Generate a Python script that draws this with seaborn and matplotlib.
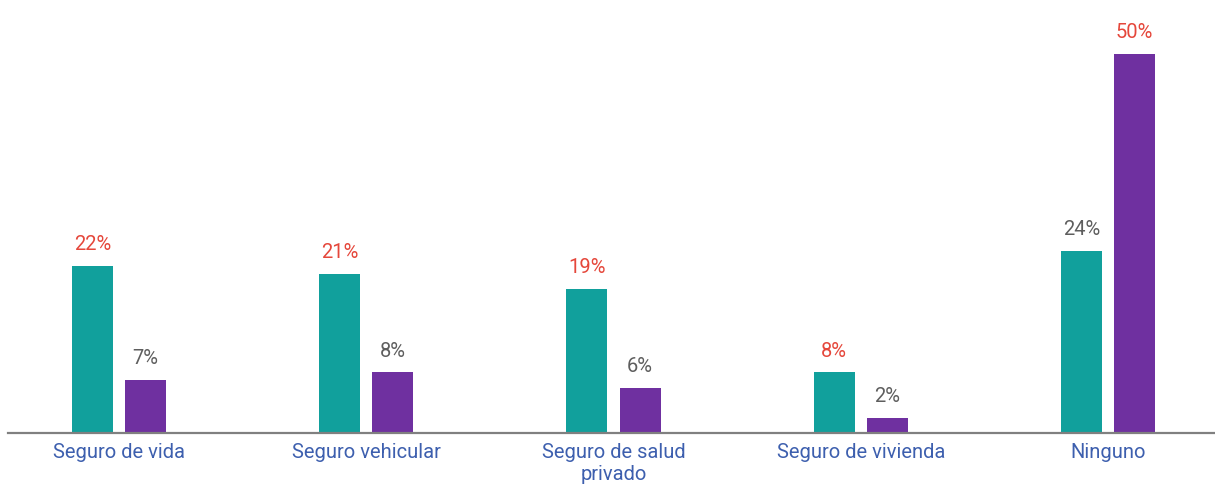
import matplotlib
matplotlib.use("Agg")
import matplotlib.pyplot as plt
import seaborn as sns
import pandas as pd

# Insurance categories and the percentage for each of the two series
categorias = ["Seguro de vida", "Seguro vehicular", "Seguro de salud\nprivado",
              "Seguro de vivienda", "Ninguno"]
serie_1 = [22, 21, 19, 8, 24]
serie_2 = [7, 8, 6, 2, 50]
series = ["Serie 1", "Serie 2"]

TEAL = "#11a09c"
PURPLE = "#6f30a0"
RED = "#e5473b"
GRAY = "#5e5e5e"
BLUE = "#3d5fae"
AXIS = "#808080"

df = pd.DataFrame({
    "categoria": categorias * 2,
    "serie": [series[0]] * len(categorias) + [series[1]] * len(categorias),
    "valor": serie_1 + serie_2,
})

sns.set_theme(style="white")
plt.rcParams["font.family"] = ["Roboto", "DejaVu Sans"]

fig = plt.figure(figsize=(12.15, 4.84), dpi=100)
ax = fig.add_axes([8 / 1215, 51 / 484, 1 - 8 / 1215, 433 / 484])

sns.barplot(data=df, x="categoria", y="valor", hue="serie", order=categorias,
            hue_order=series, palette=[TEAL, PURPLE], width=0.43, gap=0.23,
            saturation=1, legend=False, linewidth=0, ax=ax)

ax.set_xlim(-0.449, 4.433)
ax.set_ylim(0, 433 / 7.58)

# Value labels: the larger value in each category is highlighted in red
for i, cont in enumerate(ax.containers):
    valores = serie_1 if i == 0 else serie_2
    otros = serie_2 if i == 0 else serie_1
    textos = ax.bar_label(cont, labels=[f"{v}%" for v in valores], padding=8.5,
                          fontsize=14.5, family=["Roboto", "DejaVu Sans"])
    for t, v, o in zip(textos, valores, otros):
        t.set_color(RED if v > o else GRAY)

ax.set_xlabel("")
ax.set_ylabel("")
ax.set_yticks([])
for s in ["top", "right", "left"]:
    ax.spines[s].set_visible(False)
ax.spines["bottom"].set_color(AXIS)
ax.spines["bottom"].set_linewidth(1.6)

ax.tick_params(axis="x", length=0, pad=7.5)
for lbl in ax.get_xticklabels():
    lbl.set_family(["Roboto", "DejaVu Sans"])
    lbl.set_fontsize(14.5)
    lbl.set_color(BLUE)
    lbl.set_linespacing(1.15)

fig.savefig("out.png", dpi=100)
